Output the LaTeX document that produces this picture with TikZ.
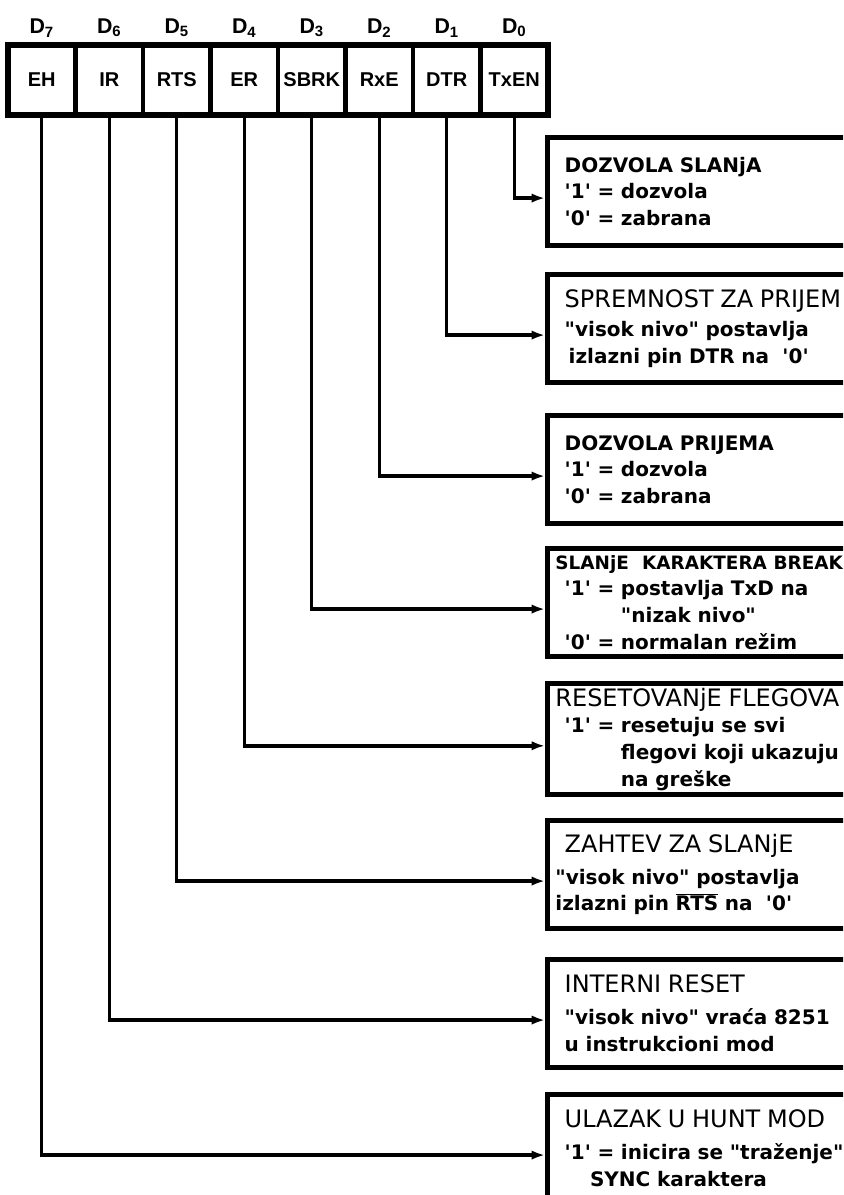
\documentclass[tikz,border=0pt]{standalone}
\usepackage{fontspec}
\usepackage{tikz}
\usetikzlibrary{arrows.meta}
\newfontfamily\regfont{Liberation Sans}
\newfontfamily\boxfont{DejaVu Sans}[Ligatures=TeXOff]
\newcommand{\btitle}[1]{{\fontsize{15}{20}\selectfont #1}}
\newcommand{\rtitle}[1]{{\mdseries\fontsize{18}{22}\selectfont #1}}
\newcommand{\sk}{\hspace*{7pt}}

\begin{document}
\begin{tikzpicture}[x=0.75pt,y=-0.75pt,
    bit/.style={draw=black,line width=3pt,minimum width=50.6pt,minimum height=52.5pt,inner sep=0pt,outer sep=0pt,font=\regfont\bfseries\fontsize{15}{17}\selectfont},
    bitno/.style={font=\regfont\bfseries\fontsize{16}{18}\selectfont},
    field/.style={draw=black,line width=3.6pt,anchor=north west,minimum height=81pt,text width=250pt,inner xsep=6pt,align=left,font=\boxfont\bfseries\fontsize{15}{20}\selectfont},
    conn/.style={line width=2.6pt,-{Latex[length=10pt,width=7pt]}}]
  \useasboundingbox (0,0) rectangle (843,1195);
  \clip (0,0) rectangle (843,1195);
  % control register
  \foreach \lbl [count=\i] in {EH,IR,RTS,ER,SBRK,RxE,DTR,TxEN} {
    \pgfmathtruncatemacro{\b}{8-\i}
    \node[bitno] (l\b) at ({8+67.5*(\i-0.5)},28) {D\textsubscript{\b}};
    \node[bit] (r\b) at ({8+67.5*(\i-0.5)},80) {\lbl};
  }
  \draw[line width=4pt] (r7.north west) rectangle (r0.south east);
  % descriptions
  \node[field] (f0) at (545,135) {\sk\btitle{DOZVOLA SLANjA}\\ \sk'1' = dozvola\\ \sk'0' = zabrana};
  \node[field] (f1) at (545,272) {\sk\rtitle{SPREMNOST ZA PRIJEM}\\[2pt] \sk"visok nivo" postavlja\\ \hspace*{10pt}izlazni pin DTR na\ \ '0'};
  \node[field] (f2) at (545,413) {\sk\btitle{DOZVOLA PRIJEMA}\\ \sk'1' = dozvola\\ \sk'0' = zabrana};
  \node[field] (f3) at (545,546) {{\fontsize{13.8}{20}\selectfont SLANjE\ \ KARAKTERA BREAK}\\ \sk'1' = postavlja TxD na\\ \sk\phantom{'1' = }"nizak nivo"\\ \sk'0' = normalan režim};
  \node[field] (f4) at (545,681) {\rtitle{RESETOVANjE FLEGOVA}\\ \sk'1' = resetuju se svi\\ \sk\phantom{'1' = }flegovi koji ukazuju\\ \sk\phantom{'1' = }na greške};
  \node[field] (f5) at (545,818) {\sk\rtitle{ZAHTEV ZA SLANjE}\\[4pt] "visok nivo" postavlja\\ izlazni pin \(\overline{\mbox{RTS}}\) na\ \ '0'};
  \node[field] (f6) at (545,957) {\sk\rtitle{INTERNI RESET}\\[4pt] \sk"visok nivo" vraća 8251\\ \sk u instrukcioni mod};
  \node[field] (f7) at (545,1092) {\sk\rtitle{ULAZAK U HUNT MOD}\\[4pt] \sk'1' = inicira se "traženje"\\ \hspace*{26pt}SYNC karaktera};
  % connectors
  \foreach \b in {0,...,7}
    \draw[conn] (r\b.south) |- ([yshift=-5pt]f\b.west);
\end{tikzpicture}
\end{document}
